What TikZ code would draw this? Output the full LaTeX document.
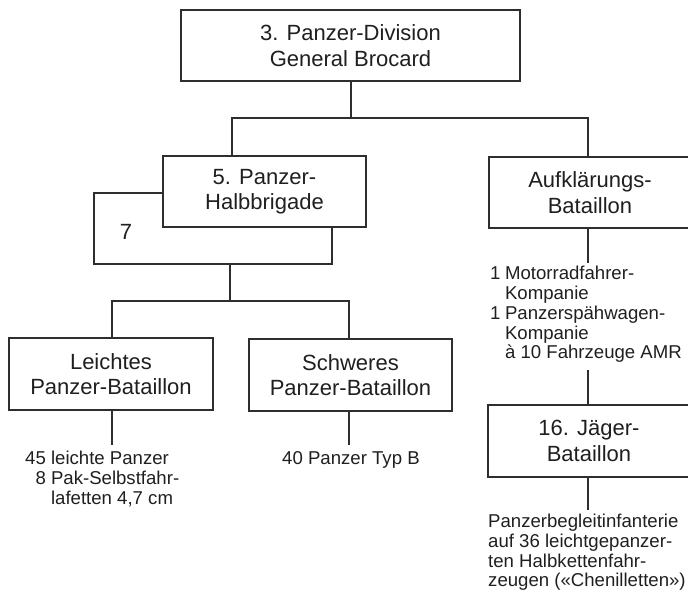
\documentclass[tikz,border=0pt]{standalone}
\usepackage{fontspec}
\setmainfont{Liberation Sans}
\begin{document}
\begin{tikzpicture}[x=1pt,y=-1pt,
  unit box/.style={draw=black!82,line width=1.1pt,inner sep=0pt,align=center,
    font=\fontsize{22}{25.5}\selectfont,text=black!88},
  info/.style={inner sep=0pt,align=left,font=\fontsize{18.6}{19.7}\selectfont,text=black!88,anchor=north west},
  link/.style={draw=black!82,line width=1.1pt}]
\useasboundingbox (0,0) rectangle (688,591);
\begin{scope}
\clip (0,0) rectangle (688,591);
% boxes
\node[unit box,minimum width=339pt,minimum height=71pt] (div) at (350.5,45.5) {3. Panzer-Division\\General Brocard};
\node[unit box,minimum width=203pt,minimum height=71pt] (hb) at (264.5,191.5) {5. Panzer-\\Halbbrigade};
\node[unit box,minimum width=202pt,minimum height=71pt] (aufk) at (590,192.5) {Aufklärungs-\\Bataillon};
\node[unit box,minimum width=204pt,minimum height=72pt] (leicht) at (111,374) {Leichtes\\Panzer-Bataillon};
\node[unit box,minimum width=203pt,minimum height=72pt] (schwer) at (350.5,375) {Schweres\\Panzer-Bataillon};
\node[unit box,minimum width=202pt,minimum height=72pt] (jaeger) at (589,441) {16. Jäger-\\Bataillon};
% labels
\node[font=\fontsize{22}{25}\selectfont,text=black!88,inner sep=0pt] (seven) at (126,232) {7};
\node[info] (leichtinfo) at (25,451) {\begin{tabular}{@{}r@{\ }l@{}}45 & leichte Panzer\\ 8 & Pak-Selbstfahr-\\ & lafetten 4,7 cm\end{tabular}};
\node[info] (schwerinfo) at (282,451) {40 Panzer Typ B};
\node[info] (aufkinfo) at (490,266) {\begin{tabular}{@{}l@{\hspace{4.5pt}}l@{}}1 & Motorradfahrer-\\ & Kompanie\\ 1 & Panzerspähwagen-\\ & Kompanie\\ & à 10 Fahrzeuge AMR\end{tabular}};
\node[info] (jaegerinfo) at (488,514) {Panzerbegleitinfanterie\\auf 36 leichtgepanzer-\\ten Halbkettenfahr-\\zeugen («Chenilletten»)};
% connector coordinates
\coordinate (divbar) at (351,118);
\coordinate (bl) at (232,118);
\coordinate (br) at (588,118);
\coordinate (hbw) at (163,193);
\coordinate (brk1) at (94,193);
\coordinate (brk2) at (94,264);
\coordinate (brk3) at (332,264);
\coordinate (brk4) at (332,227);
\coordinate (mid) at (230,264);
\coordinate (bar2) at (230,301);
\coordinate (b2l) at (112,301);
\coordinate (b2r) at (349,301);
\coordinate (lend) at (112,445);
\coordinate (send) at (349,445);
\coordinate (aend) at (588,263);
\coordinate (jtop) at (588,370);
\coordinate (jend) at (588,510);
% connectors
\draw[link] (div.south -| divbar) -- (divbar);
\draw[link] (hb.north -| bl) -- (bl) -- (br) -- (aufk.north -| br);
\draw[link] (hbw) -- (brk1) -- (brk2) -- (brk3) -- (hb.south -| brk4);
\draw[link] (mid) -- (bar2);
\draw[link] (leicht.north -| b2l) -- (b2l) -- (b2r) -- (schwer.north -| b2r);
\draw[link] (leicht.south -| lend) -- (lend);
\draw[link] (schwer.south -| send) -- (send);
\draw[link] (aufk.south -| aend) -- (aend);
\draw[link] (jtop) -- (jaeger.north -| jtop);
\draw[link] (jaeger.south -| jend) -- (jend);
\end{scope}
\end{tikzpicture}
\end{document}
